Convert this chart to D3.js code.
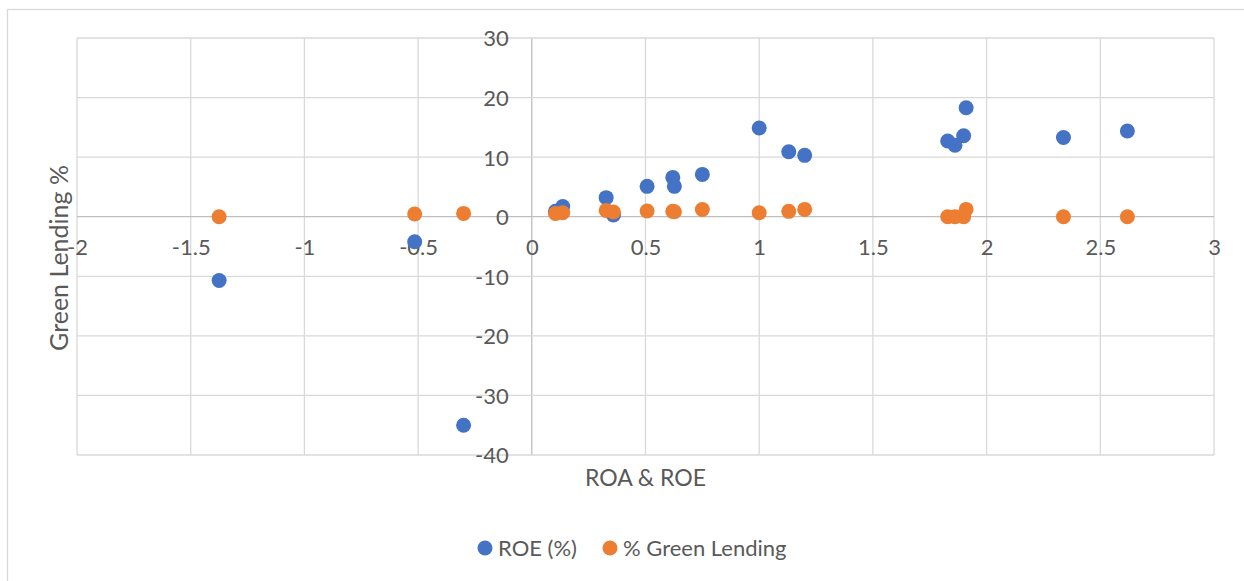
<!DOCTYPE html>
<html>
<head>
<meta charset="utf-8">
<script src="https://cdn.jsdelivr.net/npm/d3@7"></script>
<style>
  body { margin: 0; background: #fff; }
  svg text { font-family: Lato, "Open Sans", sans-serif; fill: #595959; }
</style>
</head>
<body>
<div id="plotDiv"></div>
<script>
// values
var roa = [-1.375, -0.515, -0.30, 0.104, 0.136, 0.327, 0.359, 0.507, 0.62, 0.627,
           0.75, 1.0, 1.13, 1.2, 1.829, 1.861, 1.899, 1.91, 2.338, 2.619];
var roe = [-10.7, -4.2, -35.0, 0.9, 1.7, 3.2, 0.3, 5.1, 6.6, 5.1,
           7.1, 14.9, 10.9, 10.3, 12.7, 12.0, 13.6, 18.3, 13.3, 14.4];
var greenLending = [0, 0.45, 0.56, 0.56, 0.67, 1.06, 0.78, 0.95, 0.9, 0.84,
                    1.2, 0.67, 0.9, 1.23, 0, 0, 0, 1.23, 0, 0];
var xTicks = [-2, -1.5, -1, -0.5, 0, 0.5, 1, 1.5, 2, 2.5, 3];
var yTicks = [-40, -30, -20, -10, 0, 10, 20, 30];
var seriesNames = ["ROE (%)", "% Green Lending"];

var W = 1244, H = 581;
var margin = {top: 38, right: 30, bottom: 126, left: 77},
    width = 1214 - margin.left,
    height = 455 - margin.top;

var x = d3.scaleLinear().domain([-2, 3]).range([0, width]);
var y = d3.scaleLinear().domain([-40, 30]).range([height, 0]);

var svg = d3.select("#plotDiv").append("svg")
    .attr("width", W)
    .attr("height", H);

// chart border (runs off the picture to the right and bottom)
svg.append("rect")
    .attr("x", 7.5).attr("y", 9.5)
    .attr("width", 1300).attr("height", 700)
    .attr("fill", "none")
    .attr("stroke", "#d9d9d9")
    .attr("stroke-width", 1.3);

var g = svg.append("g")
    .attr("transform", "translate(" + margin.left + "," + margin.top + ")");

// gridlines
g.append("g").selectAll("line").data(xTicks).enter().append("line")
    .attr("x1", function(d) { return x(d); })
    .attr("x2", function(d) { return x(d); })
    .attr("y1", 0).attr("y2", height)
    .attr("stroke", function(d) { return d === 0 ? "#bfbfbf" : "#d9d9d9"; })
    .attr("stroke-width", 1.3);
g.append("g").selectAll("line").data(yTicks).enter().append("line")
    .attr("y1", function(d) { return y(d); })
    .attr("y2", function(d) { return y(d); })
    .attr("x1", 0).attr("x2", width)
    .attr("stroke", function(d) { return d === 0 ? "#bfbfbf" : "#d9d9d9"; })
    .attr("stroke-width", 1.3);

// axes crossing at zero
var xAxis = g.append("g")
    .attr("transform", "translate(0," + y(0) + ")")
    .call(d3.axisBottom(x).tickValues(xTicks).tickSize(0).tickPadding(0)
        .tickFormat(function(d) { return String(d); }));
xAxis.select(".domain").remove();
xAxis.selectAll("text")
    .attr("y", 38).attr("dy", null)
    .style("font-size", "22px");

var yAxis = g.append("g")
    .attr("transform", "translate(" + x(0) + ",0)")
    .call(d3.axisLeft(y).tickValues(yTicks).tickSize(0).tickPadding(23)
        .tickFormat(function(d) { return String(d); }));
yAxis.select(".domain").remove();
yAxis.selectAll("text")
    .attr("dy", "0.36em")
    .style("font-size", "22px");

// points: blue first, orange drawn over it
g.append("g").selectAll("circle").data(roa).enter().append("circle")
    .attr("cx", function(d) { return x(d); })
    .attr("cy", function(d, i) { return y(roe[i]); })
    .attr("r", 7.5)
    .attr("fill", "#4472c4");
g.append("g").selectAll("circle").data(roa).enter().append("circle")
    .attr("cx", function(d) { return x(d); })
    .attr("cy", function(d, i) { return y(greenLending[i]); })
    .attr("r", 7.5)
    .attr("fill", "#ed7d31");

// axis titles
svg.append("text")
    .attr("x", margin.left + width / 2)
    .attr("y", 486)
    .attr("text-anchor", "middle")
    .style("font-size", "23px")
    .text("ROA & ROE");
svg.append("text")
    .attr("transform", "translate(68,258) rotate(-90)")
    .attr("text-anchor", "middle")
    .style("font-size", "25px")
    .text("Green Lending %");

// legend
var legend = svg.append("g");
var lx = [485, 610], colors = ["#4472c4", "#ed7d31"];
seriesNames.forEach(function(name, i) {
    legend.append("circle")
        .attr("cx", lx[i]).attr("cy", 548).attr("r", 7.5)
        .attr("fill", colors[i]);
    legend.append("text")
        .attr("x", lx[i] + 13).attr("y", 556)
        .style("font-size", "22px")
        .text(name);
});
</script>
</body>
</html>
